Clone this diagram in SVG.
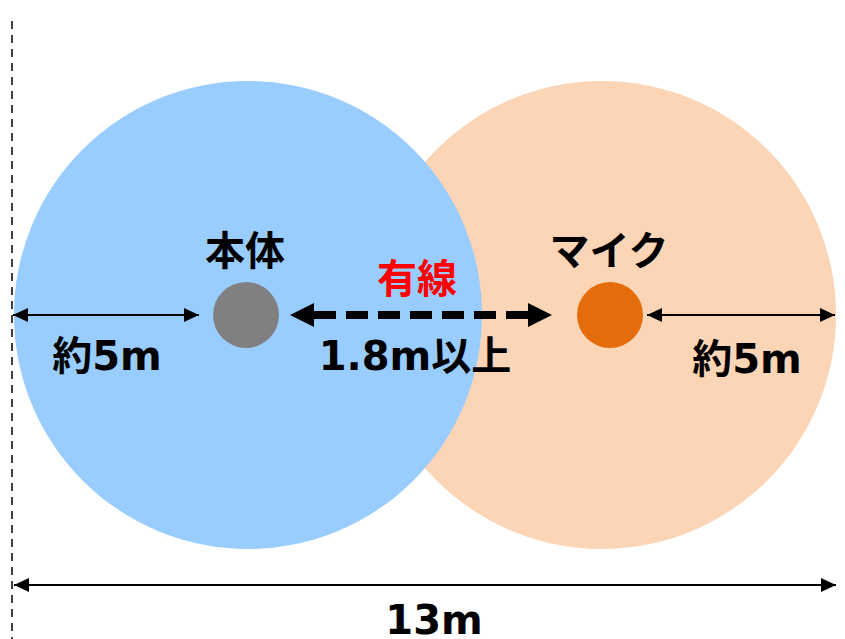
<svg xmlns="http://www.w3.org/2000/svg" width="845" height="639" viewBox="0 0 845 639">
<style>
.t{font-family:"DejaVu Sans","Noto Sans CJK JP",sans-serif;font-weight:bold;font-size:40px;text-anchor:middle;fill:#000}
.thin{stroke:#000;stroke-width:2;fill:none}
</style>
<defs>
<marker id="ah" viewBox="0 0 15 14" refX="15" refY="7" markerWidth="15" markerHeight="14" markerUnits="userSpaceOnUse" orient="auto-start-reverse"><path d="M0,0L15,7L0,14z" fill="#000"/></marker>
</defs>
<g id="mic-area"><circle cx="602" cy="315" r="234" fill="#FBD5B5"/></g>
<g id="body-area"><circle cx="248" cy="315" r="234" fill="#99CCFF"/></g>
<g id="body"><circle cx="246" cy="315" r="33" fill="#808080"/><text class="t" x="245" y="265">本体</text></g>
<g id="mic"><circle cx="610" cy="315" r="33" fill="#E46C0A"/><text class="t" x="609" y="265">マイク</text></g>
<g id="connectors">
<line x1="12" y1="21" x2="12" y2="639" stroke="#000" stroke-width="1.5" stroke-dasharray="8,6"/>
<line class="thin" x1="13" y1="315" x2="199" y2="315" marker-start="url(#ah)" marker-end="url(#ah)"/>
<line class="thin" x1="647" y1="315" x2="835" y2="315" marker-start="url(#ah)" marker-end="url(#ah)"/>
<line class="thin" x1="14" y1="585" x2="836" y2="585" marker-start="url(#ah)" marker-end="url(#ah)"/>
<line x1="314" y1="315" x2="528" y2="315" stroke="#000" stroke-width="8" stroke-dasharray="22,10"/>
<path d="M290,315L314,303L314,327z M552,315L528,303L528,327z" fill="#000"/>
</g>
<g id="labels">
<text class="t" x="107" y="370">約5m</text>
<text class="t" x="747" y="373">約5m</text>
<text class="t" x="415" y="370">1.8m以上</text>
<text class="t" x="417" y="293" style="fill:#FF0000">有線</text>
<text class="t" x="434" y="634">13m</text>
</g>
</svg>
